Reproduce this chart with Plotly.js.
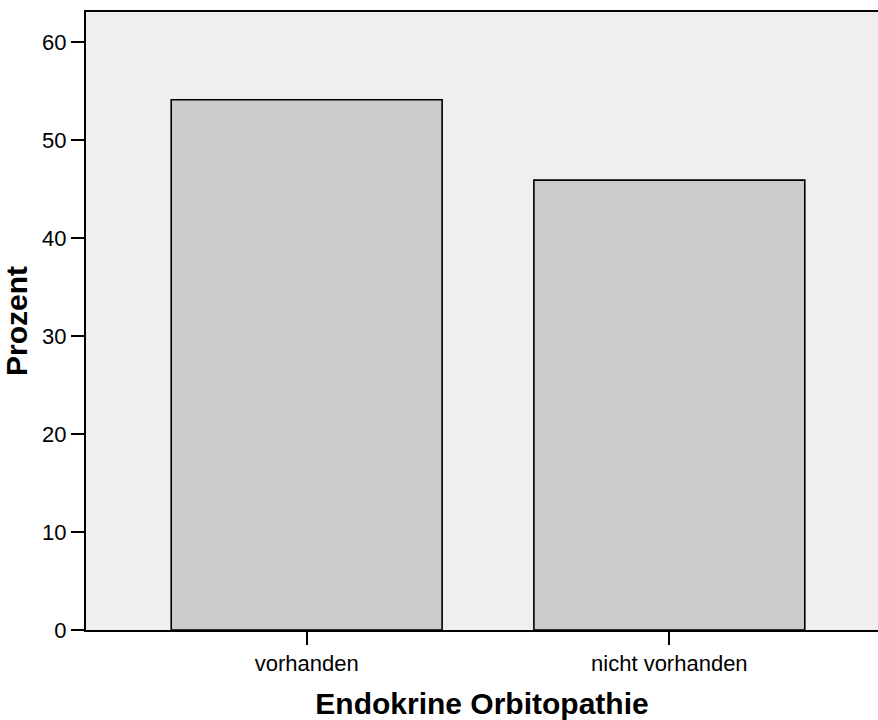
<!DOCTYPE html>
<html>
<head>
<meta charset="utf-8">
<script src="https://cdn.plot.ly/plotly-3.0.1.min.js"></script>
<style>html,body{margin:0;padding:0;background:#fff;}#chart{width:878px;height:720px;}</style>
</head>
<body>
<div id="chart"></div>
<script>
const categories = ["vorhanden", "nicht vorhanden"];
const percentValues = [54.1, 45.9];
const yTickValues = [0, 10, 20, 30, 40, 50, 60];

const FONT = "Arial, 'Liberation Sans', sans-serif";

const trace = {
  type: "bar",
  x: categories,
  y: percentValues,
  width: 0.747,
  marker: { color: "#cccccc", line: { color: "#000000", width: 1.6 } },
  hoverinfo: "none"
};

const layout = {
  width: 878,
  height: 720,
  margin: { l: 86, r: 0, t: 12, b: 90, pad: 0 },
  paper_bgcolor: "#ffffff",
  plot_bgcolor: "#efefef",
  showlegend: false,
  font: { family: FONT, color: "#000" },
  xaxis: {
    type: "category",
    range: [-0.6085, 1.5754],
    showline: true, linecolor: "#000", linewidth: 2, mirror: true,
    ticks: "outside", ticklen: 13, tickwidth: 2, tickcolor: "#000",
    showgrid: false, zeroline: false,
    tickfont: { family: FONT, size: 22, color: "#000" },
    title: { text: "Endokrine Orbitopathie", font: { family: FONT, size: 30, color: "#000", weight: "bold" }, standoff: 18 },
    automargin: false
  },
  yaxis: {
    range: [0, 63.06],
    tickvals: yTickValues,
    ticktext: yTickValues.map(String),
    showline: true, linecolor: "#000", linewidth: 2, mirror: false,
    ticks: "outside", ticklen: 13, tickwidth: 2, tickcolor: "#000",
    showgrid: false, zeroline: false,
    tickfont: { family: FONT, size: 22, color: "#000" },
    title: { text: "Prozent", font: { family: FONT, size: 30, color: "#000", weight: "bold" }, standoff: 7 },
    automargin: false
  }
};

Plotly.newPlot("chart", [trace], layout, { staticPlot: true, displayModeBar: false });
</script>
</body>
</html>
